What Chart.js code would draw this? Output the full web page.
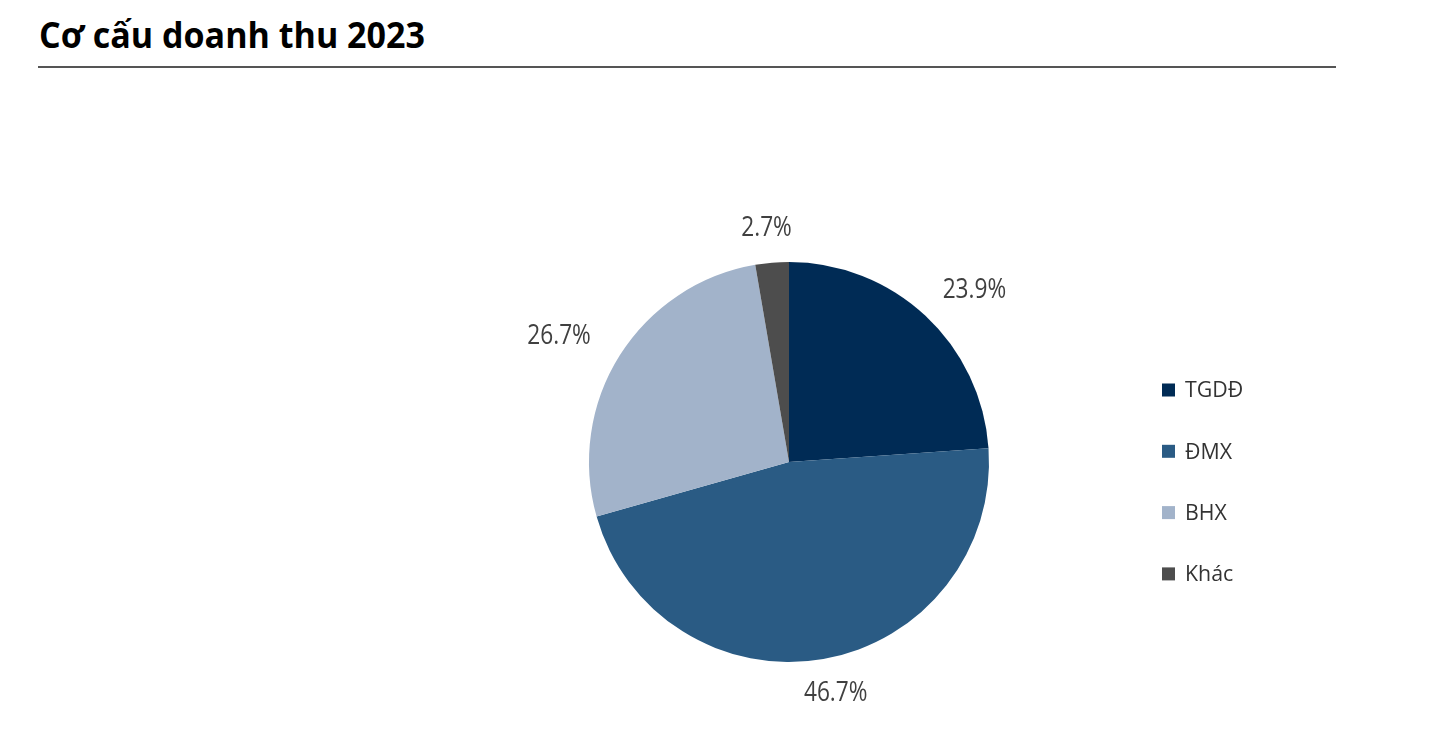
<!DOCTYPE html>
<html>
<head>
<meta charset="utf-8">
<script src="https://cdn.jsdelivr.net/npm/chart.js@4"></script>
<style>
  html, body { margin: 0; padding: 0; background: #ffffff; }
  body { width: 1452px; height: 756px; position: relative; overflow: hidden; }
  #title { position: absolute; left: 39px; top: 11px; font-family: "Open Sans", "Noto Sans", sans-serif; font-weight: 700; font-size: 36px; line-height: 48px; color: #000; white-space: nowrap; transform-origin: 0 0; }
  #rule { position: absolute; left: 38px; top: 66px; width: 1298px; height: 2px; background: #555; }
  #c { position: absolute; left: 0; top: 0; }
</style>
</head>
<body>
<div id="title">Cơ cấu doanh thu 2023</div>
<div id="rule"></div>
<canvas id="c" width="1452" height="756"></canvas>
<script>
const categories = ["TGDĐ", "ĐMX", "BHX", "Khác"];
const shares = [23.9, 46.7, 26.7, 2.7];
const valueLabels = ["23.9%", "46.7%", "26.7%", "2.7%"];
const colors = ["#002b55", "#2a5b84", "#a2b3ca", "#4d4d4d"];

// fit title width
(function(){
  const t = document.getElementById('title');
  const w = t.getBoundingClientRect().width;
  t.style.transform = 'scaleX(' + (386 / w) + ')';
})();

const outLabels = {
  id: 'outLabels',
  afterDatasetsDraw(chart) {
    const ctx = chart.ctx;
    const meta = chart.getDatasetMeta(0);
    ctx.save();
    ctx.font = '27px "Open Sans", "Noto Sans", sans-serif';
    ctx.fillStyle = '#404040';
    ctx.textAlign = 'center';
    ctx.textBaseline = 'middle';
    const sx = 0.84;
    meta.data.forEach((arc, i) => {
      const p = arc.getProps(['x','y','startAngle','endAngle','outerRadius'], true);
      const mid = (p.startAngle + p.endAngle) / 2;
      const dx = Math.cos(mid), dy = Math.sin(mid);
      const txt = valueLabels[i];
      const w = ctx.measureText(txt).width * sx;
      const x = p.x + dx * (p.outerRadius + 40 + w / 2);
      const y = p.y + dy * (p.outerRadius + 35);
      ctx.save();
      ctx.translate(x, y);
      ctx.scale(sx, 1);
      ctx.fillText(txt, 0, 0);
      ctx.restore();
    });
    ctx.restore();
  }
};

const sideLegend = {
  id: 'sideLegend',
  afterDraw(chart) {
    const ctx = chart.ctx;
    ctx.save();
    ctx.font = '22px "Open Sans", "Noto Sans", sans-serif';
    ctx.textBaseline = 'middle';
    ctx.textAlign = 'left';
    const x0 = 1162, y0 = 390, step = 61.3, box = 13;
    chart.data.labels.forEach((lab, i) => {
      const y = y0 + i * step;
      ctx.fillStyle = chart.data.datasets[0].backgroundColor[i];
      ctx.fillRect(x0, y - box / 2, box, box);
      ctx.fillStyle = '#333333';
      ctx.save();
      ctx.translate(x0 + 23, y + 1);
      ctx.scale(0.97, 1);
      ctx.fillText(lab, 0, 0);
      ctx.restore();
    });
    ctx.restore();
  }
};

new Chart(document.getElementById('c'), {
  type: 'pie',
  data: {
    labels: categories,
    datasets: [{
      data: shares,
      backgroundColor: colors,
      borderWidth: 0
    }]
  },
  options: {
    responsive: false,
    devicePixelRatio: 1,
    animation: false,
    layout: { padding: { left: 589, right: 463, top: 262, bottom: 94 } },
    plugins: {
      legend: { display: false },
      tooltip: { enabled: false },
      title: { display: false }
    }
  },
  plugins: [outLabels, sideLegend]
});
</script>
</body>
</html>
